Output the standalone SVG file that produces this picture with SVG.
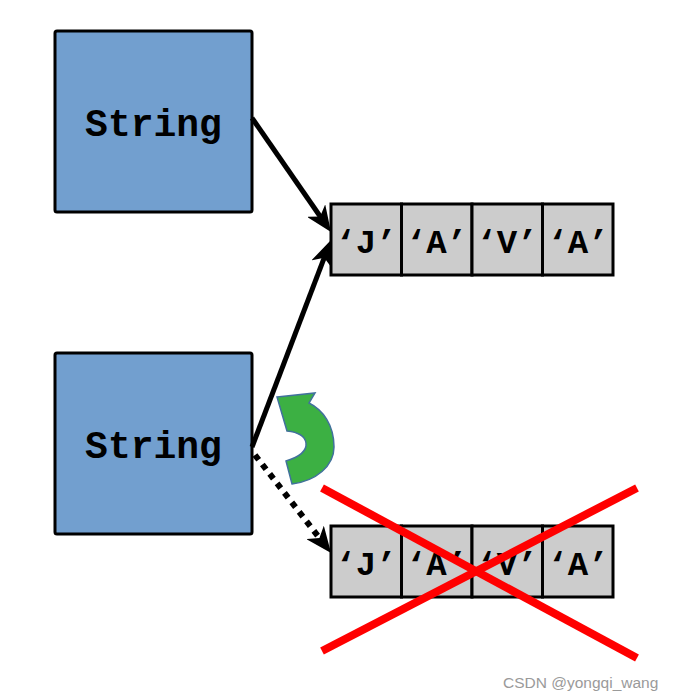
<svg xmlns="http://www.w3.org/2000/svg" width="674" height="700" viewBox="0 0 674 700">
<style>
.box{fill:#729FCF;stroke:#000;stroke-width:3}
.lbl{font-family:"Liberation Mono","Courier New",monospace;font-weight:bold;font-size:38px;fill:#000;text-anchor:middle}
.cell{fill:#CCCCCC;stroke:#000;stroke-width:3}
.ch{font-family:"Liberation Mono","Courier New",monospace;font-weight:bold;font-size:34px;fill:#000;text-anchor:middle}
.conn{stroke:#000;stroke-width:5;fill:none}
.dot{stroke-width:6;stroke-dasharray:6 6}
.cross{stroke:#FF0000;stroke-width:8;stroke-linecap:butt}
</style>
<defs>
<marker id="ah" viewBox="0 0 26 22" refX="12" refY="11" markerWidth="26" markerHeight="22" markerUnits="userSpaceOnUse" orient="auto">
<path d="M0,0 L26,11 L0,22 L7,11 Z" fill="#000"/>
</marker>
</defs>
<rect width="674" height="700" fill="#fff"/>
<g id="string1">
<rect class="box" x="55" y="31" width="197" height="181" rx="2"/>
<text class="lbl" x="153.5" y="136">String</text>
</g>
<g id="string2">
<rect class="box" x="55" y="353" width="197" height="181" rx="2"/>
<text class="lbl" x="153.5" y="458">String</text>
</g>
<g id="array1">
<rect class="cell" x="331" y="204" width="70.5" height="71"/>
<rect class="cell" x="401.5" y="204" width="70.5" height="71"/>
<rect class="cell" x="472" y="204" width="70.5" height="71"/>
<rect class="cell" x="542.5" y="204" width="70.5" height="71"/>
<text class="ch" x="366" y="253">‘J’</text>
<text class="ch" x="436.5" y="253">‘A’</text>
<text class="ch" x="507" y="253">‘V’</text>
<text class="ch" x="578" y="253">‘A’</text>
</g>
<g id="array2">
<rect class="cell" x="331" y="526" width="70.5" height="71"/>
<rect class="cell" x="401.5" y="526" width="70.5" height="71"/>
<rect class="cell" x="472" y="526" width="70.5" height="71"/>
<rect class="cell" x="542.5" y="526" width="70.5" height="71"/>
<text class="ch" x="366" y="575">‘J’</text>
<text class="ch" x="436.5" y="575">‘A’</text>
<text class="ch" x="507" y="575">‘V’</text>
<text class="ch" x="578" y="575">‘A’</text>
</g>
<g id="connectors">
<line class="conn" x1="252" y1="118" x2="323" y2="220.5" marker-end="url(#ah)"/>
<line class="conn" x1="252" y1="447" x2="326" y2="253.1" marker-end="url(#ah)"/>
<line class="conn dot" x1="255" y1="455" x2="322.5" y2="541.9" marker-end="url(#ah)"/>
</g>
<g id="reassign-arrow">
<path d="M277,397 L315,393 L309,403 C323,410 334,425 334,447 C334,466 316,481 292,484 L286,461 C299,457 307,451 306,443 C305,436 297,432 287,431 Z" fill="#3CB043" stroke="#41719C" stroke-width="1.5"/>
</g>
<g id="cross">
<line class="cross" x1="322" y1="488" x2="637" y2="658"/>
<line class="cross" x1="637" y1="488" x2="322" y2="651"/>
</g>
<text x="503" y="688" font-family="'Liberation Sans',Arial,sans-serif" font-size="15.5" fill="#9a9a9a">CSDN @yongqi_wang</text>
</svg>
